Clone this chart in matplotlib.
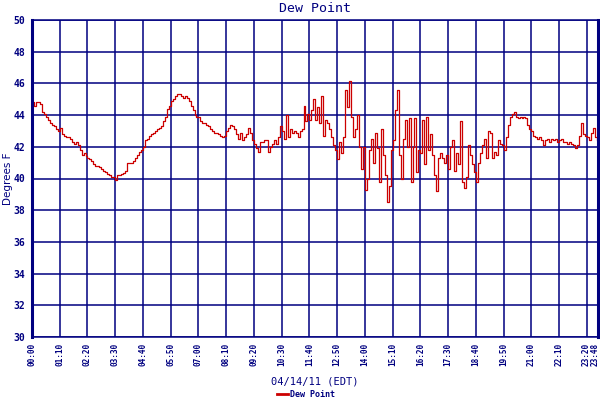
import numpy as np
import matplotlib
matplotlib.use("Agg")
import matplotlib.pyplot as plt

# dew point readings, one every 5 minutes from 00:00 (one row per hour)
dew_point = [
    44.8, 44.6, 44.8, 44.8, 44.7, 44.2, 44.1, 43.9, 43.7, 43.5, 43.4, 43.3,
    43.1, 43.0, 43.2, 42.8, 42.7, 42.6, 42.6, 42.5, 42.3, 42.2, 42.3, 42.1,
    41.8, 41.5, 41.6, 41.4, 41.3, 41.2, 41.1, 40.9, 40.8, 40.8, 40.7, 40.6,
    40.5, 40.4, 40.3, 40.2, 40.1, 40.1, 39.9, 40.25, 40.25, 40.3, 40.35, 40.5,
    41.0, 41.0, 41.0, 41.1, 41.3, 41.5, 41.7, 41.8, 42.0, 42.4, 42.5, 42.7,
    42.8, 42.9, 43.0, 43.1, 43.2, 43.3, 43.6, 43.9, 44.4, 44.6, 44.9, 45.0,
    45.2, 45.3, 45.3, 45.2, 45.1, 45.2, 45.1, 44.9, 44.6, 44.3, 44.0, 43.9,
    43.9, 43.6, 43.5, 43.5, 43.4, 43.3, 43.1, 43.0, 42.9, 42.85, 42.8, 42.7,
    42.6, 42.7, 43.0, 43.2, 43.4, 43.3, 43.1, 42.8, 42.5, 42.9, 42.4, 42.6,
    42.8, 43.2, 42.9, 42.4, 42.2, 41.95, 41.7, 42.3, 42.3, 42.4, 42.4, 41.7,
    42.0, 42.2, 42.4, 42.2, 42.6, 43.3, 43.0, 42.5, 44.0, 42.6, 43.1, 42.9,
    43.0, 42.9, 42.6, 43.0, 43.1, 44.6, 43.6, 44.1, 43.7, 44.3, 45.0, 43.7,
    44.5, 43.5, 45.2, 42.7, 43.7, 43.5, 43.1, 42.6, 42.1, 41.8, 41.2, 42.3,
    41.6, 42.6, 45.6, 44.5, 46.15, 43.9, 42.6, 43.1, 44.0, 42.0, 40.6, 42.0,
    39.3, 40.0, 41.8, 42.5, 41.0, 42.9, 41.9, 39.8, 43.1, 41.5, 40.2, 38.5,
    39.5, 41.8, 42.4, 44.3, 45.6, 41.5, 40.0, 42.5, 43.7, 42.0, 43.8, 39.8,
    42.0, 43.8, 40.4, 41.8, 41.6, 43.7, 40.9, 43.9, 41.8, 42.8, 41.5, 40.2,
    39.2, 41.3, 41.6, 41.3, 41.0, 41.5, 40.6, 42.0, 42.4, 40.5, 41.6, 40.9,
    43.6, 39.8, 39.4, 40.1, 42.1, 41.5, 40.9, 40.4, 39.8, 41.0, 41.6, 42.1,
    42.5, 41.3, 43.0, 42.9, 41.3, 41.7, 41.5, 42.4, 42.2, 42.1, 41.8, 42.6,
    43.4, 43.9, 44.1, 44.2, 43.9, 43.8, 43.9, 43.8, 43.9, 43.8, 43.4, 43.1,
    43.0, 42.7, 42.6, 42.5, 42.6, 42.4, 42.1, 42.4, 42.5, 42.3, 42.5, 42.4,
    42.5, 42.3, 42.4, 42.5, 42.3, 42.3, 42.2, 42.3, 42.2, 42.1, 41.9, 42.1,
    42.7, 43.5, 42.8, 42.7, 42.6, 42.4, 42.9, 43.2, 42.6, 42.4,
]
minutes = np.arange(len(dew_point)) * 5

tick_minutes = list(range(0, 1410, 70)) + [1428]
tick_labels = ["%02d:%02d" % (m // 60, m % 60) for m in tick_minutes]
y_ticks = list(range(30, 51, 2))

navy = "#000080"
red = "#cc0000"
mono = "DejaVu Sans Mono"
xtick_font = dict(fontsize=5.6, fontweight="bold", family=mono, color=navy)

fig = plt.figure(figsize=(6, 4), dpi=100)
ax = fig.add_axes([32 / 600, 1 - 337 / 400, 566 / 600, 317 / 400])

ax.plot(minutes, dew_point, color=red, linewidth=0.9, drawstyle="steps-post",
        label="Dew Point")

ax.set_xlim(0, 1428)
ax.set_ylim(30, 50)
ax.set_xticks(tick_minutes)
# the last two labels (23:20, 23:48) are squeezed against the border,
# so they are drawn separately with a small sideways nudge
ax.set_xticklabels(tick_labels[:-2] + ["", ""], rotation=90, **xtick_font)
for m, lab, dx in [(tick_minutes[-2], tick_labels[-2], -0.8),
                   (tick_minutes[-1], tick_labels[-1], -2.0)]:
    ax.annotate(lab, xy=(m, 0), xycoords=("data", "axes fraction"),
                xytext=(dx, -4), textcoords="offset points", rotation=90,
                ha="center", va="top", **xtick_font)
ax.set_yticks(y_ticks)
ax.set_yticklabels([str(v) for v in y_ticks], fontsize=7, fontweight="bold",
                   family=mono, color=navy)
ax.tick_params(axis="both", length=0)
ax.tick_params(axis="x", pad=4)
ax.tick_params(axis="y", pad=5)
ax.grid(True, color=navy, linewidth=1.1)
ax.set_axisbelow(True)

for side in ["top", "bottom"]:
    ax.spines[side].set_color(navy)
    ax.spines[side].set_linewidth(1.1)
for side in ["left", "right"]:
    ax.spines[side].set_color(navy)
    ax.spines[side].set_linewidth(2.2)

ax.set_title("Dew Point", fontsize=9.5, family=mono, color=navy, pad=6)
ax.set_ylabel("Degrees F", fontsize=7.5, color=navy)
ax.yaxis.set_label_coords(-0.034, 0.5)
ax.set_xlabel("04/14/11 (EDT)", fontsize=7.5, family=mono, color=navy, labelpad=8)

leg = fig.legend(loc="center", bbox_to_anchor=(0.51, 0.013), frameon=False,
                 handlelength=1.3, handletextpad=0.3,
                 prop={"family": mono, "size": 6, "weight": "bold"})
for t in leg.get_texts():
    t.set_color(navy)
for h in leg.get_lines():
    h.set_linewidth(2)

fig.savefig("out.png", dpi=100)
